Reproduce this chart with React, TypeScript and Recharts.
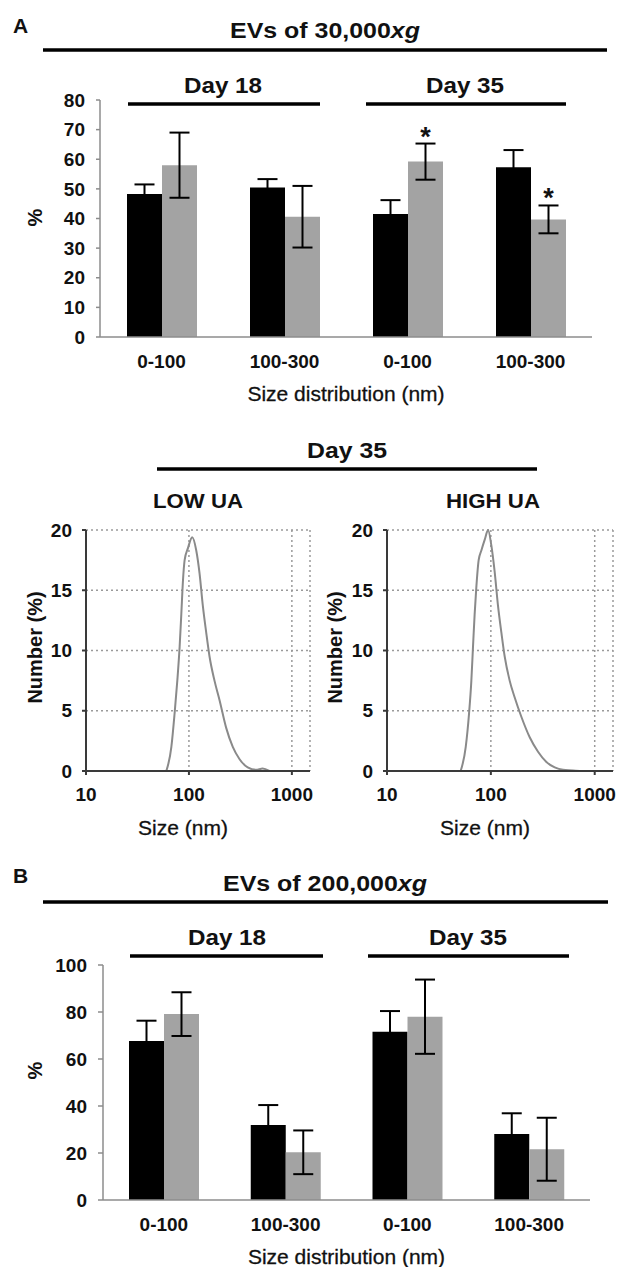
import { Bar, BarChart, CartesianGrid, ErrorBar, LabelList, Line, LineChart, XAxis, YAxis } from 'recharts'

const FONT = '"Liberation Sans", Arial, sans-serif'
const INK = '#111'

// size bins, two per day (day 18, day 35)
const binKeys = ['d18-small', 'd18-large', 'd35-small', 'd35-large']
const binLabels = ['0-100', '100-300', '0-100', '100-300']

// A: EVs of 30,000xg (black = low UA, grey = high UA)
const low30k = [48.3, 50.5, 41.5, 57.3]
const low30kErr = [3.2, 2.8, 4.7, 5.8]
const high30k = [58.0, 40.6, 59.2, 39.7]
const high30kErr = [11.0, 10.4, 6.1, 4.7]
const star30k = ['', '', '*', '*']
const ticks30k = [0, 10, 20, 30, 40, 50, 60, 70, 80]

// B: EVs of 200,000xg
const low200k = [67.7, 31.9, 71.6, 28.1]
const low200kErr = [8.6, 8.5, 8.8, 8.8]
const high200k = [79.1, 20.3, 78.0, 21.6]
const high200kErr = [9.3, 9.3, 15.8, 13.4]
const star200k = ['', '', '', '']
const ticks200k = [0, 20, 40, 60, 80, 100]

// Day 35 NTA size distributions
const lowUaSize = [60.3, 67.5, 72.6, 77.1, 81.2, 84.3, 87.5, 90.8, 97.8, 107.7, 117.8, 126.8, 136.5, 147.1, 158.5, 177.1, 198.1, 229.7, 266.6, 309.4, 372.3, 448.3, 520, 604]
const lowUaNumber = [0, 2.0, 4.8, 7.5, 10.3, 13.0, 15.8, 17.5, 18.5, 19.4, 18.3, 16.4, 13.7, 11.5, 9.5, 7.5, 5.9, 3.6, 2.0, 1.0, 0.3, 0.1, 0.2, 0]
const highUaSize = [51.2, 57.3, 61.7, 64.9, 67.3, 69.8, 72.4, 76.3, 81.0, 87.3, 94.0, 101.2, 108.9, 117.2, 126.2, 135.9, 151.7, 169.7, 196.6, 236.6, 284.6, 342.6, 412, 495, 618, 718]
const highUaNumber = [0, 2.0, 4.8, 7.5, 10.3, 13.0, 15.2, 17.5, 18.3, 19.2, 20.0, 18.7, 16.5, 13.7, 11.5, 9.5, 7.5, 6.1, 4.5, 2.8, 1.6, 0.75, 0.3, 0.1, 0.05, 0]

const sizeTicks = [10, 100, 1000]
const sizeMinorTicks = [20, 30, 40, 50, 60, 70, 80, 90, 200, 300, 400, 500, 600, 700, 800, 900]
const numberTicks = [0, 5, 10, 15, 20]
const numberMinorTicks = [2.5, 7.5, 12.5, 17.5]

interface BarRow {
  key: string
  low: number
  lowErr: number
  high: number
  highErr: number
  star: string
}

function buildRows(low: number[], lowErr: number[], high: number[], highErr: number[], star: string[]): BarRow[] {
  return binKeys.map((key, i) => ({ key, low: low[i], lowErr: lowErr[i], high: high[i], highErr: highErr[i], star: star[i] }))
}

const rows30k = buildRows(low30k, low30kErr, high30k, high30kErr, star30k)
const rows200k = buildRows(low200k, low200kErr, high200k, high200kErr, star200k)

const lowUaPoints = lowUaSize.map((size, i) => ({ size, number: lowUaNumber[i] }))
const highUaPoints = highUaSize.map((size, i) => ({ size, number: highUaNumber[i] }))

const tickText = { fill: INK, fontSize: 19, fontWeight: 700, fontFamily: FONT }
const noTick = () => <g />

function yTitle(text: string, dy: number, size = 20, weight = 400) {
  return (props: any) => {
    const vb = props.viewBox
    const cy = vb.y + vb.height / 2 + dy
    return (
      <text x={35} y={cy} transform={`rotate(-90 35 ${cy})`} textAnchor="middle" dominantBaseline="central"
        fill={INK} fontSize={size} fontWeight={weight} fontFamily={FONT}>
        {text}
      </text>
    )
  }
}

function xTitle(text: string, dx: number, dy: number) {
  return (props: any) => {
    const vb = props.viewBox
    return (
      <text x={vb.x + vb.width / 2 + dx} y={vb.y + dy} textAnchor="middle" fill={INK} fontSize={21}
        fontFamily={FONT} stroke={INK} strokeWidth={0.3}>
        {text}
      </text>
    )
  }
}

function starLabel(rows: BarRow[]) {
  return (props: any) => {
    const row = rows[props.index]
    if (!row || !row.star) return null
    const x = Number(props.x)
    const y = Number(props.y)
    const w = Number(props.width)
    const h = Number(props.height)
    const errTop = y - (row.highErr * h) / row.high
    return (
      <text x={x + w / 2} y={errTop + 2} textAnchor="middle" fill={INK} fontSize={27} fontWeight={700} fontFamily={FONT}>
        {row.star}
      </text>
    )
  }
}

interface BarPanelProps {
  rows: BarRow[]
  ticks: number[]
  top: number
  height: number
  plotTop: number
  plotBottom: number
  axisX: number
  plotRight: number
  tickSize: number
  yTitleDy: number
}

function BarPanel({ rows, ticks, top, height, plotTop, plotBottom, axisX, plotRight, tickSize, yTitleDy }: BarPanelProps) {
  const xHeight = 55
  const axisStroke = { stroke: '#8c8c8c', strokeWidth: 1.5 }
  return (
    <div style={{ position: 'absolute', left: 0, top }}>
      <BarChart width={617} height={height} data={rows} barGap={0} barSize={35}
        margin={{ top: plotTop, right: 617 - plotRight, left: 0, bottom: height - plotBottom - xHeight }}>
        <XAxis dataKey="key" interval={0} height={xHeight} tickFormatter={(_v: string, i: number) => binLabels[i]}
          axisLine={axisStroke} tickLine={false} tickSize={0} tickMargin={18} tick={tickText}
          label={{ content: xTitle('Size distribution (nm)', 0, 64) }} />
        <YAxis width={axisX} domain={[0, ticks[ticks.length - 1]]} ticks={ticks} interval={0}
          axisLine={axisStroke} tickLine={axisStroke} tickSize={tickSize} tickMargin={11} tick={tickText}
          label={{ content: yTitle('%', yTitleDy, 20, 700) }} />
        <Bar dataKey="low" name="Low UA" fill="#000" isAnimationActive={false}>
          <ErrorBar dataKey="lowErr" direction="y" width={10} stroke="#000" strokeWidth={2} />
        </Bar>
        <Bar dataKey="high" name="High UA" fill="#a3a3a3" isAnimationActive={false}>
          <ErrorBar dataKey="highErr" direction="y" width={10} stroke="#000" strokeWidth={2} />
          <LabelList dataKey="star" content={starLabel(rows)} />
        </Bar>
      </BarChart>
    </div>
  )
}

interface SizePanelProps {
  points: { size: number; number: number }[]
  left: number
  width: number
  axisX: number
  right: number
}

function SizePanel({ points, left, width, axisX, right }: SizePanelProps) {
  const dark = { stroke: '#3a3a3a', strokeWidth: 2 }
  return (
    <div style={{ position: 'absolute', left, top: 420 }}>
      <LineChart width={width} height={420} data={points} margin={{ top: 110, right, left: 0, bottom: 14 }}>
        <CartesianGrid stroke="#9a9a9a" strokeWidth={1.5} strokeDasharray="2 3" />
        <XAxis dataKey="size" type="number" scale="log" domain={[10, 1500]} allowDataOverflow ticks={sizeTicks}
          interval={0} height={55} axisLine={dark} tickLine={dark} tickSize={4} tickMargin={13} tick={tickText}
          label={{ content: xTitle('Size (nm)', -15, 64) }} />
        <XAxis xAxisId="minor" dataKey="size" type="number" scale="log" domain={[10, 1500]} allowDataOverflow
          ticks={sizeMinorTicks} interval={0} mirror height={0} axisLine={false} tickLine={dark} tickSize={3} tick={noTick} />
        <YAxis width={axisX} domain={[0, 20]} ticks={numberTicks} interval={0} axisLine={dark} tickLine={dark}
          tickSize={4} tickMargin={10} tick={tickText} label={{ content: yTitle('Number (%)', -3, 20, 700) }} />
        <YAxis yAxisId="minor" width={0} domain={[0, 20]} ticks={numberMinorTicks} interval={0} mirror
          axisLine={false} tickLine={dark} tickSize={3} tick={noTick} />
        <Line dataKey="number" type="monotone" stroke="#8a8a8a" strokeWidth={2} dot={false} isAnimationActive={false} />
      </LineChart>
    </div>
  )
}

function Heading({ x, y, text, italic, width, size = 22 }: { x: number; y: number; text: string; italic?: string; width: number; size?: number }) {
  return (
    <text x={x} y={y} textAnchor="middle" fontSize={size} fontWeight={700} fontFamily={FONT} fill={INK}
      textLength={width} lengthAdjust="spacingAndGlyphs">
      {text}
      {italic ? <tspan fontStyle="italic">{italic}</tspan> : null}
    </text>
  )
}

function Rule({ x1, x2, y }: { x1: number; x2: number; y: number }) {
  return <line x1={x1} x2={x2} y1={y} y2={y} stroke="#000" strokeWidth={3.5} />
}

export default function App() {
  return (
    <div style={{ position: 'absolute', left: 0, top: 0, width: 617, height: 1267, background: '#fff', fontFamily: FONT }}>
      <BarPanel rows={rows30k} ticks={ticks30k} top={0} height={420} plotTop={100} plotBottom={337}
        axisX={100} plotRight={592} tickSize={4} yTitleDy={-1} />
      <SizePanel points={lowUaPoints} left={0} width={330} axisX={86} right={20} />
      <SizePanel points={highUaPoints} left={300} width={317} axisX={87} right={4} />
      <BarPanel rows={rows200k} ticks={ticks200k} top={840} height={427} plotTop={125} plotBottom={360}
        axisX={103} plotRight={590} tickSize={5} yTitleDy={-12} />

      <svg width={617} height={1267} style={{ position: 'absolute', left: 0, top: 0, pointerEvents: 'none' }}>
        <text x={13} y={33} fontSize={21} fontWeight={700} fontFamily={FONT} fill={INK}>A</text>
        <Heading x={325} y={38} text="EVs of 30,000" italic="xg" width={190} />
        <Rule x1={43} x2={607} y={50} />
        <Heading x={223} y={93} text="Day 18" width={78} />
        <Heading x={465} y={93} text="Day 35" width={78} />
        <Rule x1={128} x2={320} y={104} />
        <Rule x1={366} x2={566} y={104} />

        <Heading x={347} y={458} text="Day 35" width={80} />
        <Rule x1={157} x2={537} y={469} />
        <Heading x={198} y={508} text="LOW UA" width={90} size={21} />
        <Heading x={493} y={508} text="HIGH UA" width={94} size={21} />

        <text x={13} y={883} fontSize={21} fontWeight={700} fontFamily={FONT} fill={INK}>B</text>
        <Heading x={325} y={891} text="EVs of 200,000" italic="xg" width={204} />
        <Rule x1={43} x2={608} y={902} />
        <Heading x={227} y={945} text="Day 18" width={78} />
        <Heading x={468} y={945} text="Day 35" width={78} />
        <Rule x1={130} x2={323} y={956} />
        <Rule x1={368} x2={569} y={956} />
      </svg>
    </div>
  )
}
